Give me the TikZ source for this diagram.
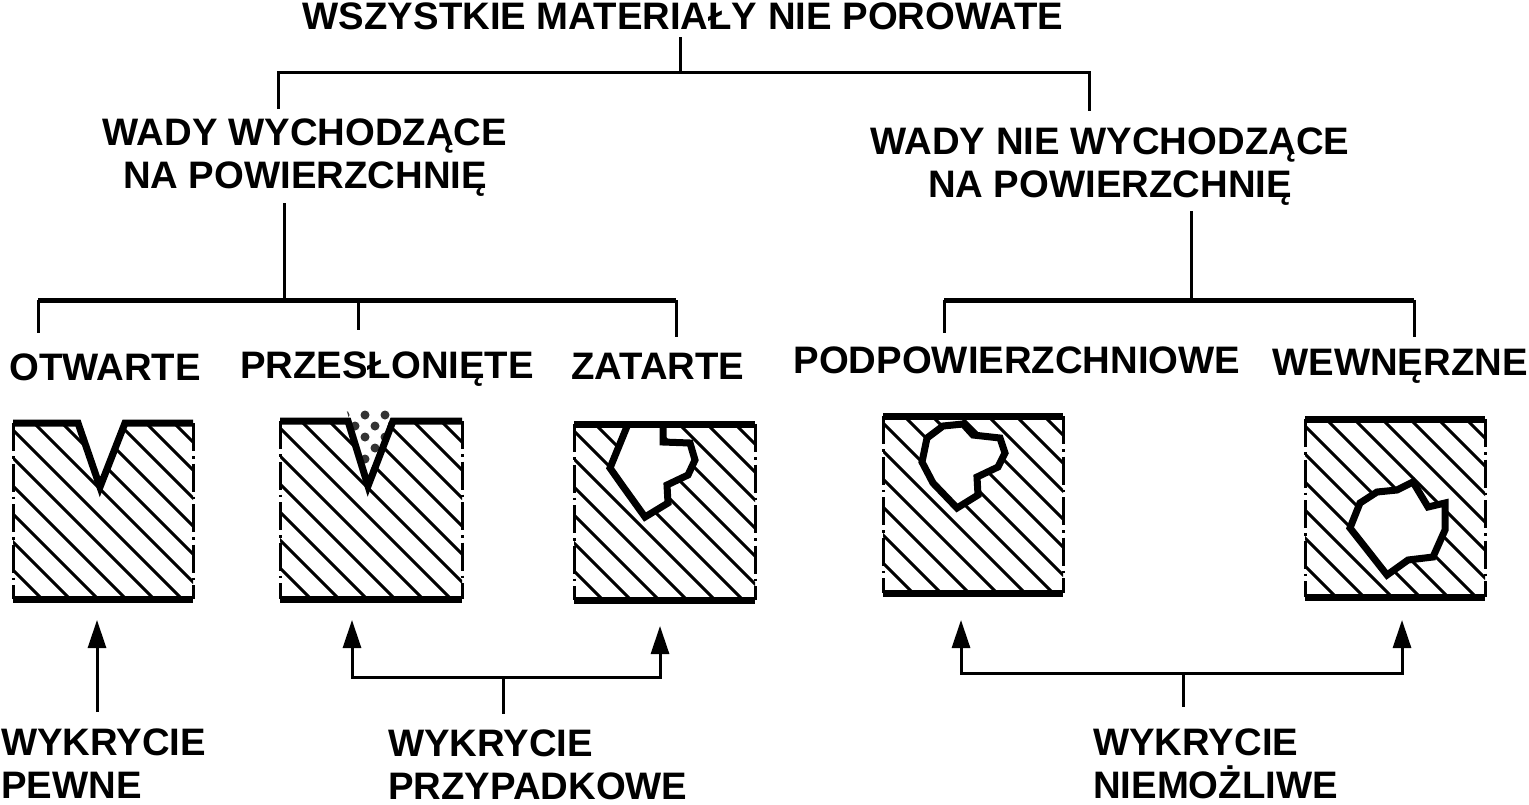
\documentclass[tikz,border=0pt]{standalone}
\usepackage{fontspec}
\setmainfont{Liberation Sans}
\usetikzlibrary{arrows.meta}
\newcommand\hatchblock[4]{%
  \begin{scope}
    \clip (#1,#3) rectangle (#2,#4);
    \foreach \k in {-8,...,8} {
      \draw[hatch] (#1+21+28*\k, #3) -- ++(220,220);
    }
  \end{scope}
  \draw[side] (#1,#3) -- (#1,#4);
  \draw[side] (#2,#3) -- (#2,#4);
}
\begin{document}
\begin{tikzpicture}[x=1pt,y=-1pt,
  lbl/.style={font=\fontsize{38.3}{42.5}\selectfont\bfseries, inner sep=0pt, anchor=base},
  tree/.style={line width=3pt},
  bar/.style={line width=5pt},
  surf/.style={line width=7pt},
  hatch/.style={line width=3pt},
  side/.style={line width=3pt, dash pattern=on 28pt off 5pt on 2.5pt off 5pt},
  cav/.style={line width=7pt, line join=miter, fill=white},
  tipA/.tip={Triangle[length=28pt,width=18pt]},
  arr/.style={line width=3pt, -tipA},
  arr2/.style={line width=3pt, tipA-tipA},
]
\useasboundingbox (0,0) rectangle (1529,804);

% ---------- tree ----------
\node[lbl] (title) at (683,29) {WSZYSTKIE MATERIAŁY NIE POROWATE};
\coordinate (t0) at (680,37);
\coordinate (t1) at (680,72);
\coordinate (tl) at (278,72);
\coordinate (tr) at (1089,72);
\coordinate (tl2) at (278,109);
\coordinate (tr2) at (1089,111);
\draw[tree] (t0) -- (t1);
\draw[tree] (tl2) -- (tl) -- (tr) -- (tr2);

\node[lbl, align=center] (w1) at (305,188) {WADY WYCHODZĄCE\\NA POWIERZCHNIĘ};
\node[lbl, align=center] (w2) at (1110,197) {WADY NIE WYCHODZĄCE\\NA POWIERZCHNIĘ};

% left branch
\coordinate (l0) at (284,203);
\coordinate (l1) at (284,300);
\coordinate (la) at (38,300);
\coordinate (lb) at (358,300);
\coordinate (lc) at (676,300);
\coordinate (la2) at (38,333);
\coordinate (lb2) at (358,330);
\coordinate (lc2) at (676,337);
\draw[tree] (l0) -- (l1);
\draw[bar] (la) -- (lc);
\draw[tree] (la) -- (la2);
\draw[tree] (lb) -- (lb2);
\draw[tree] (lc) -- (lc2);

% right branch
\coordinate (r0) at (1191,211);
\coordinate (r1) at (1191,300);
\coordinate (ra) at (944,300);
\coordinate (rb) at (1414,300);
\coordinate (ra2) at (944,333);
\coordinate (rb2) at (1414,337);
\draw[tree] (r0) -- (r1);
\draw[bar] (ra) -- (rb);
\draw[tree] (ra) -- (ra2);
\draw[tree] (rb) -- (rb2);

\node[lbl] (otw) at (105,380) {OTWARTE};
\node[lbl] (prz) at (387,378) {PRZESŁONIĘTE};
\node[lbl] (zat) at (658,379) {ZATARTE};
\node[lbl] (pod) at (1017,373) {PODPOWIERZCHNIOWE};
\node[lbl] (wew) at (1400,375) {WEWNĘRZNE};

% ---------- block 1 (open) ----------
\hatchblock{13}{193}{423}{599}
\fill[white] (78,420) -- (100,488) -- (125,420) -- cycle;
\draw[surf, line join=miter] (13,423) -- (78,423) -- (100,487) -- (125,423) -- (193,423);
\draw[surf] (13,599) -- (193,599);

% ---------- block 2 (covered) ----------
\hatchblock{280}{462}{421}{599}
\fill[white] (348,408) -- (368,488) -- (393,408) -- cycle;
\begin{scope}
  \clip (346,408) -- (368,486) -- (395,408) -- cycle;
  \foreach \r in {0,...,7} {
    \foreach \i in {0,...,3} {
      \fill[black!80] ({345+20*\i+10*mod(\r,2)}, {415+11*\r}) circle (4.5);
    }
  }
\end{scope}
\draw[surf, line join=miter] (280,421) -- (348,421) -- (368,486) -- (393,421) -- (462,421);
\draw[surf] (280,599) -- (462,599);

% ---------- block 3 (smeared) ----------
\hatchblock{574}{755}{424}{600}
\filldraw[cav] (628,424) -- (610,468) -- (622,485) -- (645,517) -- (668,503) -- (667,485) -- (688,475) -- (695,460) -- (690,443) -- (663,442) -- (663,424);
\draw[surf] (574,424) -- (755,424);
\draw[surf] (574,600) -- (755,600);

% ---------- block 4 (subsurface) ----------
\hatchblock{883}{1063}{416}{593}
\filldraw[cav] (922,462) -- (927,438) -- (943,426) -- (963,424) -- (973,435) -- (1000,438) -- (1005,453) -- (998,467) -- (977,477) -- (978,495) -- (957,508) -- (933,483) -- cycle;
\draw[surf] (883,416) -- (1063,416);
\draw[surf] (883,593) -- (1063,593);

% ---------- block 5 (internal) ----------
\hatchblock{1305}{1485}{419}{597}
\filldraw[cav] (1350,528) -- (1360,503) -- (1377,492) -- (1397,490) -- (1413,482) -- (1428,507) -- (1445,503) -- (1445,530) -- (1433,557) -- (1408,560) -- (1387,575) -- (1365,547) -- cycle;
\draw[surf] (1305,419) -- (1485,419);
\draw[surf] (1305,597) -- (1485,597);

% ---------- detection arrows ----------
\coordinate (a1s) at (97,712);
\coordinate (a1t) at (97,620);
\draw[arr] (a1s) -- (a1t);

\coordinate (b2lt) at (352,620);
\coordinate (b2l) at (352,677);
\coordinate (b2r) at (660,677);
\coordinate (b2rt) at (660,626);
\coordinate (b2m) at (503,677);
\coordinate (b2s) at (503,714);
\draw[arr2] (b2lt) -- (b2l) -- (b2r) -- (b2rt);
\draw[tree] (b2m) -- (b2s);

\coordinate (b3lt) at (961,620);
\coordinate (b3l) at (961,673);
\coordinate (b3r) at (1402,673);
\coordinate (b3rt) at (1402,620);
\coordinate (b3m) at (1183,673);
\coordinate (b3s) at (1183,707);
\draw[arr2] (b3lt) -- (b3l) -- (b3r) -- (b3rt);
\draw[tree] (b3m) -- (b3s);

\node[lbl, align=left, anchor=base west] (d1) at (1,798) {WYKRYCIE\\PEWNE};
\node[lbl, align=left, anchor=base west] (d2) at (388,799) {WYKRYCIE\\PRZYPADKOWE};
\node[lbl, align=left, anchor=base west] (d3) at (1093,798) {WYKRYCIE\\NIEMOŻLIWE};
\end{tikzpicture}
\end{document}
